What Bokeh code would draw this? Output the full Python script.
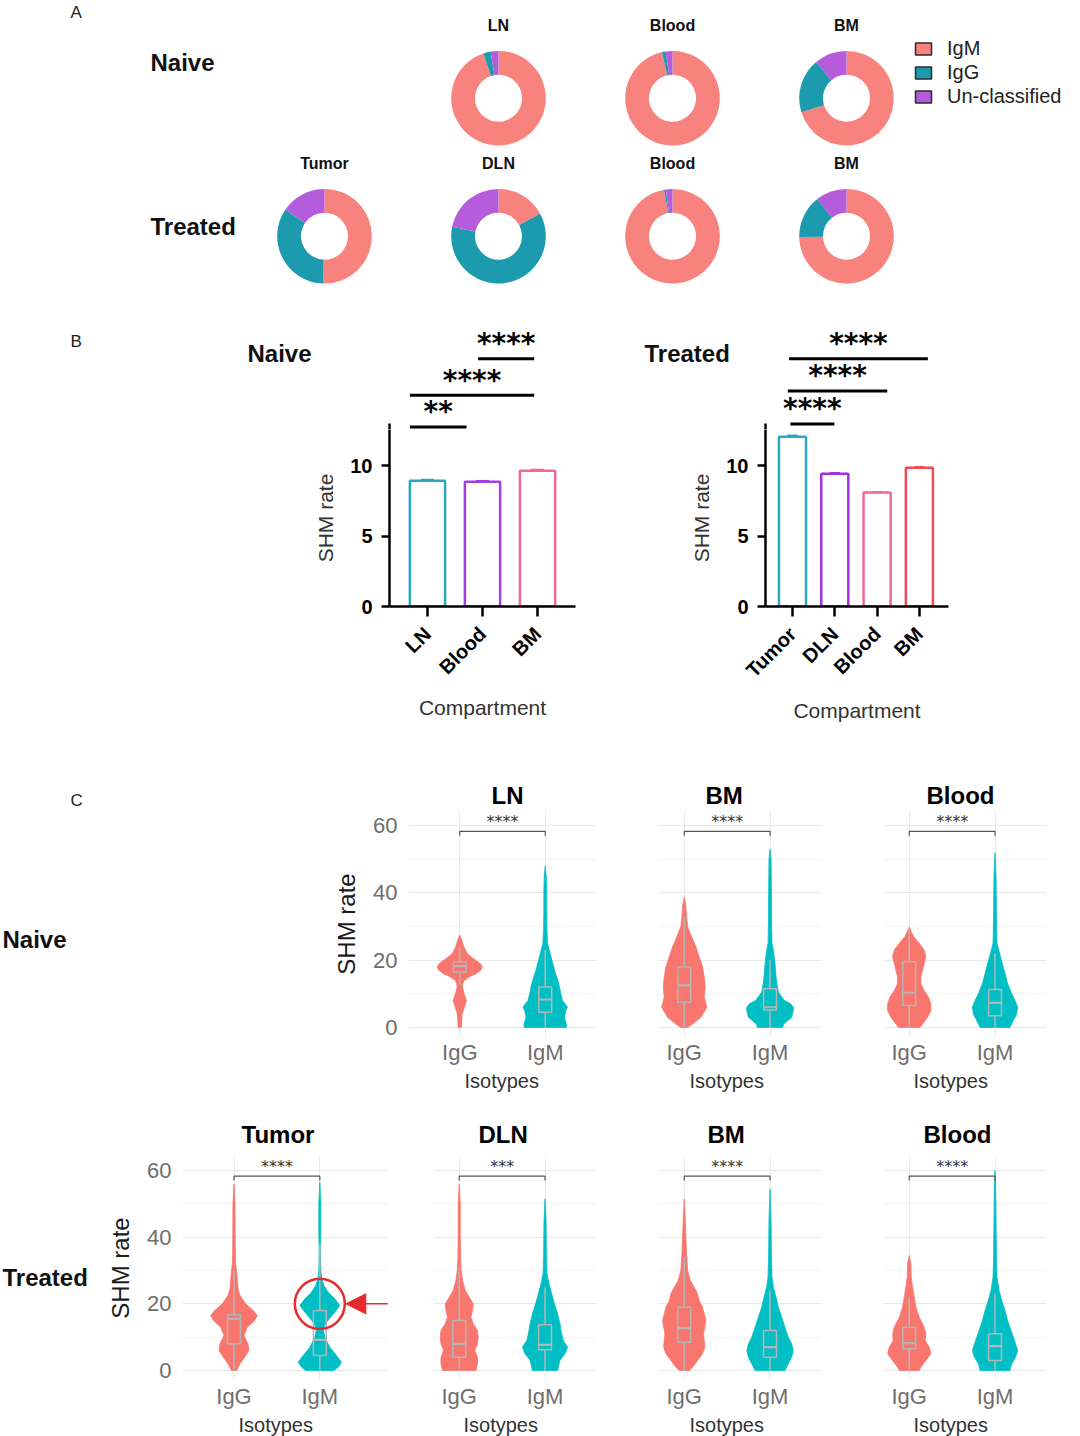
import math
from bokeh.plotting import figure
from bokeh.models import Range1d, FixedTicker, Legend, LegendItem, Arrow, NormalHead, Title
from bokeh.layouts import column, row
from bokeh.embed import file_html
from bokeh.resources import INLINE
from bokeh.core.properties import value

FONT = "Liberation Sans"
STAR_FONT = "DejaVu Sans"

# ---------------- Panel A: isotype composition (%) ----------------
DONUT_GROUP = ["Naive", "Naive", "Naive", "Treated", "Treated", "Treated", "Treated"]
DONUT_COMP = ["LN", "Blood", "BM", "Tumor", "DLN", "Blood", "BM"]
IGM_PCT = [94.8, 96.4, 70.2, 50.5, 17.1, 97.1, 74.7]
IGG_PCT = [2.5, 1.3, 18.7, 34.0, 61.1, 0.6, 14.7]
UNC_PCT = [2.7, 2.3, 11.1, 15.5, 21.8, 2.3, 10.6]
ISOTYPE_NAMES = ["IgM", "IgG", "Un-classified"]
C_IGM, C_IGG, C_UNC = "#F8827E", "#1C9BAF", "#B45CDB"

# ---------------- Panel B: mean SHM rate per compartment ----------------
B_NAIVE_COMP = ["LN", "Blood", "BM"]
B_NAIVE_SHM = [8.94, 8.87, 9.65]
B_NAIVE_ERR = [0.06, 0.05, 0.06]
B_NAIVE_COLORS = ["#2CA7C0", "#A43DE2", "#EE6B8F"]
B_TREAT_COMP = ["Tumor", "DLN", "Blood", "BM"]
B_TREAT_SHM = [12.06, 9.43, 8.09, 9.86]
B_TREAT_ERR = [0.08, 0.06, 0.05, 0.05]
B_TREAT_COLORS = ["#2CA7C0", "#9D32E0", "#EE6B8F", "#EE4B56"]
B_NAIVE_SIG = ["**", "****", "****"]
B_NAIVE_SIG_X0 = [0.68, 0.68, 1.92]
B_NAIVE_SIG_X1 = [1.71, 2.94, 2.94]
B_NAIVE_SIG_Y = [12.75, 15.0, 17.6]
B_TREAT_SIG = ["****", "****", "****"]
B_TREAT_SIG_X0 = [0.95, 0.89, 0.92]
B_TREAT_SIG_X1 = [1.99, 3.24, 4.20]
B_TREAT_SIG_Y = [12.96, 15.3, 17.6]
B_AXIS_TOP = 13.0

# ---------------- Panel C: SHM distributions (violin half-width in % of category step) ----
ISOTYPES = ["IgG", "IgM"]
C_VIO_IGG, C_VIO_IGM = "#F8766D", "#00BFC4"

N_LN_IGG_Y = [0, 2, 4, 6, 8, 10, 12, 13, 14, 15, 16, 17, 18, 19, 20, 21, 22, 24, 26, 27.5]
N_LN_IGG_W = [1.9, 2.3, 2.7, 5.4, 7.8, 5.0, 3.1, 3.5, 5.4, 10.9, 19.4, 24.4, 26.4, 24.0, 18.6, 13.2, 8.5, 4.7, 2.3, 0]
N_LN_IGG_BOX = [12.5, 16.5, 18.2, 19.5, 24]
N_LN_IGM_Y = [0, 1, 3, 5, 6, 7, 8, 10, 12, 14, 17, 20, 23, 25, 30, 35, 40, 45, 48]
N_LN_IGM_W = [24.8, 24.8, 22.5, 24.0, 26.0, 23.3, 20.2, 18.2, 16.7, 14.7, 10.9, 7.8, 4.7, 2.7, 1.9, 1.6, 1.6, 1.2, 0]
N_LN_IGM_BOX = [0, 4.5, 8.3, 12, 23]

N_BM_IGG_Y = [0, 1, 3, 6, 9, 12, 15, 18, 21, 24, 27, 30, 33, 36, 38.8]
N_BM_IGG_W = [3.9, 9.7, 19.4, 26.4, 23.3, 24.4, 23.3, 21.3, 17.4, 13.6, 8.5, 3.9, 2.7, 1.9, 0]
N_BM_IGG_BOX = [0, 7.5, 12.5, 18, 33]
N_BM_IGM_Y = [0, 1, 3, 5, 6, 7, 8, 10.5, 13, 15, 19, 23, 25, 30, 40, 50, 53]
N_BM_IGM_W = [14.7, 15.9, 25.2, 27.1, 27.1, 24.0, 16.7, 9.7, 8.0, 7.0, 5.8, 3.9, 2.3, 1.9, 1.6, 1.2, 0]
N_BM_IGM_BOX = [0, 5.2, 6.0, 11.5, 20]

N_BL_IGG_Y = [0, 1, 3, 5, 7, 9, 11, 13, 15, 17, 19, 21, 23, 25, 27, 29.8]
N_BL_IGG_W = [12.4, 15.5, 21.3, 25.2, 25.2, 22.5, 17.4, 13.6, 13.6, 15.5, 17.4, 19.4, 17.4, 11.6, 5.0, 0]
N_BL_IGG_BOX = [0, 6.5, 10.3, 19.5, 29]
N_BL_IGM_Y = [0, 2, 4, 6, 8, 10, 13, 16, 19, 22, 25, 35, 45, 52]
N_BL_IGM_W = [17.4, 21.3, 25.2, 26.4, 23.3, 19.4, 14.7, 11.6, 8.5, 5.4, 2.3, 1.6, 1.2, 0]
N_BL_IGM_BOX = [0, 3.5, 7.3, 11.3, 22]

T_TU_IGG_Y = [0, 2, 4, 6, 8, 10.5, 13, 15, 16.5, 18, 20, 22.5, 24.5, 29.5, 32, 35, 40, 50, 56]
T_TU_IGG_W = [3.1, 7.0, 12.4, 17.4, 16.3, 11.6, 15.5, 24.0, 27.1, 22.5, 13.6, 7.0, 4.7, 3.1, 1.9, 1.6, 1.4, 1.2, 0]
T_TU_IGG_BOX = [0, 8, 15.5, 16.7, 30]
T_TU_IGM_Y = [0, 1, 2.5, 4.5, 7, 10, 12.5, 14.5, 17.5, 19.5, 21.5, 23.5, 25.5, 27.5, 30, 35, 42, 50, 56.5]
T_TU_IGM_W = [16.3, 21.3, 25.2, 19.4, 11.6, 5.8, 3.9, 7.8, 17.4, 23.3, 17.4, 9.7, 4.7, 2.3, 1.2, 0.8, 1.2, 1.2, 0]
T_TU_IGM_BOX = [0, 4.5, 9.2, 18, 38]

T_DLN_IGG_Y = [0, 2, 4, 6, 8, 10, 12, 14, 16, 18, 20, 22, 24, 27, 30, 33, 40, 50, 56]
T_DLN_IGG_W = [19.4, 21.3, 21.3, 18.2, 21.3, 22.1, 21.3, 16.3, 13.6, 15.5, 16.3, 11.6, 7.0, 3.9, 2.3, 1.6, 1.2, 1.2, 0]
T_DLN_IGG_BOX = [0, 4, 8, 15, 31]
T_DLN_IGM_Y = [0, 1, 3, 5, 7, 9, 11, 14, 17, 20, 23, 26, 29, 35, 45, 51.5]
T_DLN_IGM_W = [14.7, 15.5, 17.4, 23.3, 26.4, 21.3, 19.4, 17.4, 14.7, 10.9, 7.8, 4.7, 2.3, 1.6, 1.2, 0]
T_DLN_IGM_BOX = [0, 6.2, 7.7, 13.7, 25]

T_BM_IGG_Y = [0, 1, 3, 5, 7, 9, 11, 13, 15, 17, 19, 21, 23, 25, 27, 30, 35, 40, 45, 51.5]
T_BM_IGG_W = [5.8, 9.7, 15.5, 21.3, 24.0, 23.3, 22.5, 24.0, 25.2, 23.3, 21.3, 17.4, 15.5, 11.6, 7.0, 3.9, 2.7, 1.9, 1.2, 0]
T_BM_IGG_BOX = [0, 8.5, 12.7, 19, 34]
T_BM_IGM_Y = [0, 2, 4, 6, 8, 10, 13, 16, 19, 22, 25, 28, 35, 45, 54.5]
T_BM_IGM_W = [17.4, 21.3, 25.2, 27.1, 25.2, 21.3, 17.4, 13.6, 9.7, 7.0, 3.9, 2.3, 1.6, 1.2, 0]
T_BM_IGM_BOX = [0, 4, 7, 12, 24]

T_BL_IGG_Y = [0, 1, 3, 5, 7, 9, 11, 13, 16, 19, 22, 25, 28, 32, 34.5]
T_BL_IGG_W = [11.6, 13.6, 19.4, 25.2, 23.3, 18.6, 19.4, 17.4, 11.6, 7.8, 5.8, 3.9, 2.3, 1.9, 0]
T_BL_IGG_BOX = [0, 6.5, 8.2, 13, 22]
T_BL_IGM_Y = [0, 2, 4, 6, 8, 10, 12, 15, 18, 21, 24, 28, 35, 45, 55, 60]
T_BL_IGM_W = [17.4, 19.4, 24.0, 26.4, 24.0, 21.3, 18.6, 14.7, 11.6, 7.8, 4.7, 2.3, 1.6, 1.2, 0.8, 0]
T_BL_IGM_BOX = [0, 3, 7.3, 11, 23]

C_SIG_NAIVE = ["****", "****", "****"]
C_SIG_TREAT = ["****", "***", "****", "****"]
HIGHLIGHT_SHM = 20  # IgM tumor sub-population circled in the figure

RED = "#E52B2B"
BOXC = "#B5B5B5"
COMMON = dict(output_backend="svg", toolbar_location=None, outline_line_color=None,
              frame_align=False)

# page layout (pixels)
A_H = 300
B_PPU_Y = 183 / 13.0            # pixels per SHM unit in panel B
B_STRIP_H = 129
B_BAR_H = 331
B_FRAME_H = 177
B_SPLIT = B_FRAME_H / B_PPU_Y   # value where the bar frame ends and the strip begins
C1_H, C1_TOP, C1_BOT = 350, 50, 73
C2_H, C2_TOP, C2_BOT = 326, 45, 56


def txt(p, x, y, text, size, bold=False, color="#111111", align="left", font=FONT):
    p.text(x=[x], y=[y], text=[text], text_font=value(font), text_font_size=size,
           text_font_style="bold" if bold else "normal", text_color=color,
           text_align=align, text_baseline="middle")


def canvas(width, height, xr, yr):
    return figure(width=width, height=height, x_range=Range1d(*xr), y_range=Range1d(*yr),
                  x_axis_type=None, y_axis_type=None, min_border=0, title=None, **COMMON)


# ======================= Panel A =======================
pa = canvas(1080, A_H, (-324 / 174, (1080 - 324) / 174), ((235.7 - A_H) / 138, 235.7 / 138))
COL_OF = {"Tumor": 0, "LN": 1, "DLN": 1, "Blood": 2, "BM": 3}
ROW_OF = {"Naive": 1, "Treated": 0}
dxs = [COL_OF[c] for c in DONUT_COMP]
dys = [ROW_OF[g] for g in DONUT_GROUP]
cum = [0.0] * len(DONUT_COMP)
items = []
for name, pct, col in zip(ISOTYPE_NAMES, (IGM_PCT, IGG_PCT, UNC_PCT), (C_IGM, C_IGG, C_UNC)):
    st = [math.pi / 2 - 2 * math.pi * (c + q) / 100 for c, q in zip(cum, pct)]
    en = [math.pi / 2 - 2 * math.pi * c / 100 for c in cum]
    pa.annular_wedge(x=dxs, y=dys, inner_radius=23.5, outer_radius=47.3,
                     inner_radius_units="screen", outer_radius_units="screen",
                     start_angle=st, end_angle=en, direction="anticlock",
                     fill_color=col, line_color=None)
    cum = [c + q for c, q in zip(cum, pct)]
    proxy = pa.rect(x=dxs[:1], y=dys[:1], width=0.05, height=0.05, fill_color=col,
                    line_color="#2b2b2b", line_width=1.5, visible=False)
    items.append(LegendItem(label=name, renderers=[proxy]))

pa.text(x=dxs, y=[y + 0.527 for y in dys], text=DONUT_COMP, text_font=value(FONT),
        text_font_style="bold", text_font_size="16px", text_align="center",
        text_baseline="middle", text_color="#111111")
leg = Legend(items=items, location=(913, A_H - 108), orientation="vertical", padding=0,
             margin=0, spacing=1, glyph_width=20, glyph_height=15, label_standoff=14,
             label_text_font=FONT, label_text_font_size="20px", label_text_color="#222222",
             border_line_color=None, background_fill_alpha=0, inactive_fill_alpha=0)
pa.add_layout(leg, "center")
txt(pa, (70 - 324) / 174, (235.7 - 12) / 138, "A", "17px", color="#222222")
txt(pa, (150 - 324) / 174, (235.7 - 62) / 138, "Naive", "24px", bold=True)
txt(pa, (150 - 324) / 174, (235.7 - 226) / 138, "Treated", "24px", bold=True)


# ======================= Panel B =======================
def sig_lines(p, sx0, sx1, sy):
    p.segment(x0=sx0, x1=sx1, y0=sy, y1=sy, line_color="black", line_width=3)


def sig_stars(p, sig, sx0, sx1, sy):
    p.text(x=[(a + b) / 2 for a, b in zip(sx0, sx1)], y=[y + 1.09 for y in sy], text=sig,
           text_font=value(STAR_FONT), text_font_style="bold", text_font_size="28px",
           text_align="center", text_baseline="middle", text_color="black")


def bar_block(comp, shm, err, colors, sig, sx0, sx1, sy, xr, width, mbl, mbr,
              title, title_px, letter_px=None):
    frame_w = width - mbl - mbr
    ppx = frame_w / (xr[1] - xr[0])
    # ---- strip above the bars: significance brackets and title, same data scale ----
    s = canvas(width, B_STRIP_H, (xr[0] - mbl / ppx, xr[1] + mbr / ppx),
               (B_SPLIT, B_SPLIT + B_STRIP_H / B_PPU_Y))
    sig_lines(s, sx0, sx1, sy)
    sig_stars(s, sig, sx0, sx1, sy)
    # top end of the y-axis line, which reaches SHM 13
    s.segment(x0=[xr[0]], x1=[xr[0]], y0=[B_SPLIT], y1=[B_AXIS_TOP], line_color="black",
              line_width=2.5)

    def sx(px):
        return xr[0] + (px - mbl) / ppx

    def sy_(py):
        return B_SPLIT + (B_STRIP_H - py) / B_PPU_Y
    txt(s, sx(title_px[0]), sy_(title_px[1]), title, "24px", bold=True)
    if letter_px is not None:
        txt(s, sx(letter_px[0]), sy_(letter_px[1]), "B", "17px", color="#222222")

    # ---- bar chart ----
    p = figure(width=width, height=B_BAR_H, x_range=Range1d(*xr),
               y_range=Range1d(0, B_SPLIT),
               min_border_left=mbl, min_border_right=mbr, min_border_top=0,
               min_border_bottom=B_BAR_H - B_FRAME_H, title=None, **COMMON)
    p.grid.visible = False
    xs = list(range(1, len(comp) + 1))
    p.vbar(x=xs, bottom=0, top=shm, width=0.64, fill_color=None, line_color=colors,
           line_width=2.5)
    tops = [v + e for v, e in zip(shm, err)]
    p.segment(x0=xs, x1=xs, y0=shm, y1=tops, line_color=colors, line_width=2)
    p.segment(x0=[x - 0.12 for x in xs], x1=[x + 0.12 for x in xs], y0=tops, y1=tops,
              line_color=colors, line_width=2)
    sig_lines(p, sx0, sx1, sy)
    yax = p.yaxis[0]
    yax.ticker = FixedTicker(ticks=[0, 5, 10])
    xax = p.xaxis[0]
    xax.ticker = FixedTicker(ticks=xs)
    xax.major_label_overrides = {x: c for x, c in zip(xs, comp)}
    xax.major_label_orientation = math.pi / 4
    for ax in (xax, yax):
        ax.axis_line_width = 2.5
        ax.axis_line_color = "black"
        ax.major_tick_line_width = 2.5
        ax.major_tick_line_color = "black"
        ax.major_tick_in = 0
        ax.minor_tick_line_color = None
        ax.major_label_text_font = FONT
        ax.major_label_text_font_style = "bold"
        ax.major_label_text_color = "black"
        ax.axis_label_text_font = FONT
        ax.axis_label_text_font_size = "21px"
        ax.axis_label_text_font_style = "normal"
        ax.axis_label_text_color = "#333333"
    yax.major_tick_out = 8
    yax.major_label_text_font_size = "20px"
    yax.major_label_standoff = 9
    yax.axis_label = "SHM rate"
    yax.axis_label_standoff = 10
    xax.major_tick_out = 10
    xax.major_label_text_font_size = "20px"
    xax.major_label_standoff = 14
    xax.axis_label = "Compartment"
    xax.axis_label_standoff = 7
    return column(s, p)


# title / letter positions are given in pixels relative to the strip's top-left corner
bn = bar_block(B_NAIVE_COMP, B_NAIVE_SHM, B_NAIVE_ERR, B_NAIVE_COLORS, B_NAIVE_SIG,
               B_NAIVE_SIG_X0, B_NAIVE_SIG_X1, B_NAIVE_SIG_Y, (0.31, 3.69), 600, 389, 25,
               "Naive", (247, 53), letter_px=(70, 41))
bt = bar_block(B_TREAT_COMP, B_TREAT_SHM, B_TREAT_ERR, B_TREAT_COLORS, B_TREAT_SIG,
               B_TREAT_SIG_X0, B_TREAT_SIG_X1, B_TREAT_SIG_Y, (0.362, 4.688), 480, 165, 132,
               "Treated", (44, 53))


# ======================= Panel C =======================
def violin_panel(title, title_off, iso_off, stars, igg, igm, first, width, height, mbl, mbr,
                 mbt, mbb, x_start, tick_standoff, title_standoff, x_end=2.6):
    p = figure(width=width, height=height, x_range=Range1d(x_start, x_end),
               y_range=Range1d(-3, 64.5), min_border_left=mbl, min_border_right=mbr,
               min_border_top=mbt, min_border_bottom=mbb, title=title, **COMMON)
    p.title.align = "left"
    p.title.offset = title_off
    p.title.text_font = FONT
    p.title.text_font_size = "24px"
    p.title.text_font_style = "bold"
    p.title.text_color = "black"
    p.title.standoff = title_standoff
    yt = FixedTicker(ticks=[0, 20, 40, 60], minor_ticks=[10, 30, 50])
    xt = FixedTicker(ticks=[1, 2])
    p.yaxis.ticker = yt
    p.ygrid.ticker = yt
    p.xaxis.ticker = xt
    p.xgrid.ticker = xt
    p.ygrid.grid_line_color = "#e8e8e8"
    p.ygrid.grid_line_width = 1.1
    p.ygrid.minor_grid_line_color = "#efefef"
    p.ygrid.minor_grid_line_width = 0.8
    p.xgrid.grid_line_color = "#eaeaea"
    for ax in p.axis:
        ax.axis_line_color = None
        ax.major_tick_line_color = None
        ax.minor_tick_line_color = None
        ax.major_tick_out = 0
        ax.major_tick_in = 0
        ax.major_label_text_font = FONT
        ax.major_label_text_font_size = "22px"
        ax.major_label_text_color = "#6e6e6e"
        ax.axis_label_text_font = FONT
        ax.axis_label_text_font_style = "normal"
    p.xaxis.major_label_overrides = {1: ISOTYPES[0], 2: ISOTYPES[1]}
    p.xaxis.major_label_standoff = tick_standoff
    p.add_layout(Title(text="Isotypes", align="left", offset=iso_off, standoff=0,
                       text_font=FONT, text_font_size="20px", text_font_style="normal",
                       text_color="#333333"), "below")
    if first:
        p.yaxis.major_label_standoff = 7
        p.yaxis.axis_label = "SHM rate"
        p.yaxis.axis_label_text_font_size = "24px"
        p.yaxis.axis_label_text_color = "#1a1a1a"
        p.yaxis.axis_label_standoff = 10
    else:
        p.yaxis.visible = False
    for xc, (ys, ws, box), col in ((1, igg, C_VIO_IGG), (2, igm, C_VIO_IGM)):
        vx = [xc + w / 100 for w in ws] + [xc - w / 100 for w in reversed(ws)]
        vy = list(ys) + list(reversed(ys))
        p.patch(vx, vy, fill_color=col, line_color=col, line_width=0.8)
        wlo, q1, med, q3, whi = box
        p.segment(x0=[xc, xc], x1=[xc, xc], y0=[wlo, q3], y1=[q1, whi],
                  line_color=BOXC, line_width=1.5)
        p.quad(left=[xc - 0.075], right=[xc + 0.075], bottom=[q1], top=[q3],
               fill_color=None, line_color=BOXC, line_width=1.5)
        p.segment(x0=[xc - 0.075], x1=[xc + 0.075], y0=[med], y1=[med],
                  line_color=BOXC, line_width=2.2)
    p.line(x=[1, 1, 2, 2], y=[57.0, 58.3, 58.3, 57.0], line_color="#555555", line_width=1.2)
    p.text(x=[1.5], y=[61.2], text=[stars], text_font=value(STAR_FONT),
           text_font_size="16px", text_align="center", text_baseline="middle",
           text_color="#333333")
    return p


R1 = dict(height=C1_H, mbt=C1_TOP, mbb=C1_BOT, tick_standoff=2, title_standoff=4)
R2 = dict(height=C2_H, mbt=C2_TOP, mbb=C2_BOT, tick_standoff=3, title_standoff=16)

lc1 = canvas(330, C1_H, (0, 330), (0, C1_H))
txt(lc1, 70, C1_H - 40, "C", "17px", color="#222222")
txt(lc1, 2, C1_H - 179, "Naive", "24px", bold=True)
c_ln = violin_panel("LN", 83, 56, C_SIG_NAIVE[0], (N_LN_IGG_Y, N_LN_IGG_W, N_LN_IGG_BOX),
                    (N_LN_IGM_Y, N_LN_IGM_W, N_LN_IGM_BOX), True, 295,
                    mbl=77, mbr=29, x_start=0.4, **R1)
c_bm = violin_panel("BM", 47, 31, C_SIG_NAIVE[1], (N_BM_IGG_Y, N_BM_IGG_W, N_BM_IGG_BOX),
                    (N_BM_IGM_Y, N_BM_IGM_W, N_BM_IGM_BOX), False, 225,
                    mbl=33, mbr=29, x_start=0.7, **R1)
c_bl = violin_panel("Blood", 43, 30, C_SIG_NAIVE[2], (N_BL_IGG_Y, N_BL_IGG_W, N_BL_IGG_BOX),
                    (N_BL_IGM_Y, N_BL_IGM_W, N_BL_IGM_BOX), False, 230,
                    mbl=33, mbr=34, x_start=0.7, **R1)

lc2 = canvas(100, C2_H, (0, 100), (0, C2_H))
txt(lc2, 2, C2_H - 167, "Treated", "24px", bold=True)
t_tu = violin_panel("Tumor", 59, 56, C_SIG_TREAT[0], (T_TU_IGG_Y, T_TU_IGG_W, T_TU_IGG_BOX),
                    (T_TU_IGM_Y, T_TU_IGM_W, T_TU_IGM_BOX), True, 300,
                    mbl=82, mbr=12, x_start=0.4, x_end=2.8, **R2)
t_tu.circle(x=[2], y=[HIGHLIGHT_SHM], radius=25, radius_units="screen",
            fill_color=None, line_color=RED, line_width=2.5)
t_tu.add_layout(Arrow(end=NormalHead(size=20, fill_color=RED, line_color=RED),
                      x_start=2.79, y_start=HIGHLIGHT_SHM, x_end=2.303, y_end=HIGHLIGHT_SHM,
                      line_color=RED, line_width=1.5))
t_dln = violin_panel("DLN", 45, 30, C_SIG_TREAT[1], (T_DLN_IGG_Y, T_DLN_IGG_W, T_DLN_IGG_BOX),
                     (T_DLN_IGM_Y, T_DLN_IGM_W, T_DLN_IGM_BOX), False, 225,
                     mbl=33, mbr=29, x_start=0.7, **R2)
t_bm = violin_panel("BM", 49, 31, C_SIG_TREAT[2], (T_BM_IGG_Y, T_BM_IGG_W, T_BM_IGG_BOX),
                    (T_BM_IGM_Y, T_BM_IGM_W, T_BM_IGM_BOX), False, 225,
                    mbl=33, mbr=29, x_start=0.7, **R2)
t_bl = violin_panel("Blood", 40, 30, C_SIG_TREAT[3], (T_BL_IGG_Y, T_BL_IGG_W, T_BL_IGG_BOX),
                    (T_BL_IGM_Y, T_BL_IGM_W, T_BL_IGM_BOX), False, 230,
                    mbl=33, mbr=34, x_start=0.7, **R2)

layout = column(pa, row(bn, bt), row(lc1, c_ln, c_bm, c_bl),
                row(lc2, t_tu, t_dln, t_bm, t_bl))
open("out.html", "w").write(file_html(layout, INLINE))
